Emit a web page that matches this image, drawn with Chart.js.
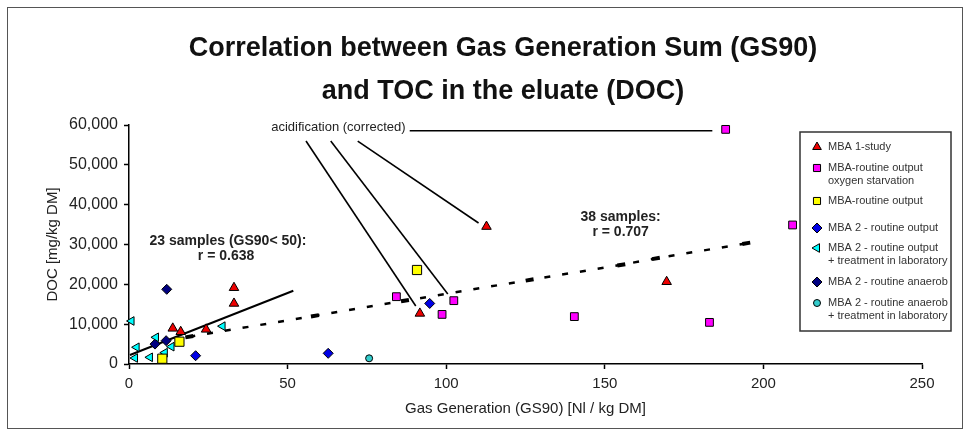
<!DOCTYPE html>
<html>
<head>
<meta charset="utf-8">
<title>GS90 vs DOC</title>
<script src="https://cdn.jsdelivr.net/npm/chart.js@4.4.1/dist/chart.umd.min.js"></script>
<style>
    html, body { margin: 0; padding: 0; background: #fff; }
    #wrap { width: 968px; height: 438px; }
</style>
</head>
<body>
<div id="wrap"><canvas id="myChart" width="968" height="438"></canvas></div>
<script>
// values: x = GS90 [Nl/kg DM], y = DOC [mg/kg DM]
var mba1X = [13.8, 16.3, 24.3, 33.1, 33.1, 91.7, 112.7, 169.5];
var mba1Y = [8950, 8100, 8700, 15200, 19150, 12700, 34500, 20650];

var oxyX = [84.3, 98.7, 102.4, 140.4, 183.0, 188.1, 209.2];
var oxyY = [16900, 12450, 15900, 11900, 10450, 58900, 34900];

var routineX = [10.5, 15.9, 90.8];
var routineY = [1330, 5600, 23600];

var mba2OutX = [21.0, 62.8, 94.8];
var mba2OutY = [2080, 2680, 15200];

var mba2TreatX = [0.8, 1.9, 2.4, 6.6, 8.5, 11.3, 13.4, 29.5];
var mba2TreatY = [10800, 1500, 4200, 1680, 6700, 2840, 4350, 9500];

var anaerobX = [8.2, 11.7, 11.9];
var anaerobY = [5000, 5850, 18750];

var anaerobTreatX = [75.7];
var anaerobTreatY = [1430];

// regression lines
var fit23X = [0.3, 51.8];
var fit23Y = [2260, 18400];
var fit38X = [19, 58.6, 87, 126.3, 155.2, 166.1, 194.6];
var fit38Y = [6850, 12100, 15900, 21100, 24900, 26500, 30300];

// "acidification (corrected)" pointer lines, in data units
var acidFromX = [55.8, 63.6, 72.1];
var acidFromY = [55970, 55970, 55970];
var acidToX = [90.4, 100.5, 110.2];
var acidToY = [14560, 17570, 35390];
var acidBarX = [88.5, 183.9];
var acidBarY = 58560;

var titleLines = ["Correlation between Gas Generation Sum (GS90)", "and TOC in the eluate (DOC)"];
var legendLabels = [
    ["MBA 1-study"],
    ["MBA-routine output", "oxygen starvation"],
    ["MBA-routine output"],
    ["MBA 2 - routine output"],
    ["MBA 2 - routine output", "+ treatment in laboratory"],
    ["MBA 2 - routine anaerob"],
    ["MBA 2 - routine anaerob", "+ treatment in laboratory"]
];

function pts(xs, ys) {
    return xs.map(function (x, i) { return { x: x, y: ys[i] }; });
}

function markers(label, xs, ys, style, fill, radius, rot) {
    return {
        label: label,
        data: pts(xs, ys),
        pointStyle: style,
        pointRadius: radius,
        pointRotation: rot || 0,
        backgroundColor: fill,
        borderColor: "#000",
        borderWidth: 1,
        showLine: false,
        clip: false,
        order: 1
    };
}

var FONT = "'Liberation Sans', Arial, sans-serif";

var decor = {
    id: "decor",
    beforeDraw: function (chart) {
        var c = chart.ctx;
        c.save();
        c.fillStyle = "#fff";
        c.fillRect(0, 0, chart.width, chart.height);
        c.restore();
    },
    afterDatasetsDraw: function (chart) {
        var c = chart.ctx;
        var xs = chart.scales.x, ys = chart.scales.y;
        c.save();
        c.strokeStyle = "#000";
        c.lineWidth = 1.6;
        for (var i = 0; i < acidFromX.length; i++) {
            c.beginPath();
            c.moveTo(xs.getPixelForValue(acidFromX[i]), ys.getPixelForValue(acidFromY[i]));
            c.lineTo(xs.getPixelForValue(acidToX[i]), ys.getPixelForValue(acidToY[i]));
            c.stroke();
        }
        c.lineWidth = 1.4;
        c.beginPath();
        c.moveTo(xs.getPixelForValue(acidBarX[0]), ys.getPixelForValue(acidBarY));
        c.lineTo(xs.getPixelForValue(acidBarX[1]), ys.getPixelForValue(acidBarY));
        c.stroke();

        c.fillStyle = "#222";
        c.textBaseline = "middle";
        c.font = "13px " + FONT;
        c.textAlign = "right";
        c.fillText("acidification (corrected)", xs.getPixelForValue(87.2), ys.getPixelForValue(59500));

        c.font = "bold 14px " + FONT;
        c.textAlign = "center";
        c.fillText("23 samples (GS90< 50):", xs.getPixelForValue(31.2), ys.getPixelForValue(30900));
        c.fillText("r = 0.638", xs.getPixelForValue(30.6), ys.getPixelForValue(27100));
        c.fillText("38 samples:", xs.getPixelForValue(155), ys.getPixelForValue(36900));
        c.fillText("r = 0.707", xs.getPixelForValue(155), ys.getPixelForValue(33100));
        c.restore();
    },
    afterDraw: function (chart) {
        var c = chart.ctx;
        c.save();
        // outer frame
        c.strokeStyle = "#555";
        c.lineWidth = 1;
        c.strokeRect(7.5, 7.5, 955, 421);

        // title
        c.fillStyle = "#111";
        c.font = "bold 27px " + FONT;
        c.textAlign = "center";
        c.textBaseline = "middle";
        c.fillText(titleLines[0], 503, 49);
        c.fillText(titleLines[1], 503, 92);

        // legend box
        var bx = 800, by = 132, bw = 151, bh = 199;
        c.fillStyle = "#fff";
        c.fillRect(bx, by, bw, bh);
        c.strokeStyle = "#333";
        c.lineWidth = 1.5;
        c.strokeRect(bx, by, bw, bh);

        var rowY = [147, 168, 201, 228, 248, 282, 303];
        var ds = chart.data.datasets;
        c.font = "11px " + FONT;
        c.textAlign = "left";
        for (var i = 0; i < legendLabels.length; i++) {
            var d = ds[i];
            c.fillStyle = d.backgroundColor;
            c.strokeStyle = "#000";
            c.lineWidth = 1;
            Chart.helpers.drawPoint(c, {
                pointStyle: d.pointStyle,
                radius: Math.min(d.pointRadius, 5),
                rotation: d.pointRotation,
                borderWidth: 1
            }, 817, rowY[i]);
            c.fillStyle = "#333";
            for (var k = 0; k < legendLabels[i].length; k++) {
                c.fillText(legendLabels[i][k], 828, rowY[i] + k * 13);
            }
        }
        c.restore();
    }
};

var ctx = document.getElementById("myChart").getContext("2d");
window.myChart = new Chart(ctx, {
    type: "scatter",
    data: {
        datasets: [
            markers("MBA 1-study", mba1X, mba1Y, "triangle", "#ee0000", 5.5),
            markers("MBA-routine output oxygen starvation", oxyX, oxyY, "rect", "#ff00ff", 5.5),
            markers("MBA-routine output", routineX, routineY, "rect", "#ffff00", 6.5),
            markers("MBA 2 - routine output", mba2OutX, mba2OutY, "rectRot", "#0000e6", 5),
            markers("MBA 2 - routine output + treatment in laboratory", mba2TreatX, mba2TreatY, "triangle", "#00ffff", 5, 270),
            markers("MBA 2 - routine anaerob", anaerobX, anaerobY, "rectRot", "#000080", 5),
            markers("MBA 2 - routine anaerob + treatment in laboratory", anaerobTreatX, anaerobTreatY, "circle", "#33cccc", 3.5),
            {
                label: "fit 23",
                data: pts(fit23X, fit23Y),
                showLine: true,
                borderColor: "#000",
                borderWidth: 2,
                pointRadius: 0,
                order: 2
            },
            {
                label: "fit 38",
                data: pts(fit38X, fit38Y),
                showLine: true,
                borderColor: "#000",
                borderWidth: 2.5,
                borderDash: [6, 12],
                pointStyle: "line",
                pointRadius: 4,
                pointRotation: -9.5,
                pointBorderWidth: 4,
                pointBorderColor: "#000",
                order: 2
            }
        ]
    },
    options: {
        responsive: false,
        animation: false,
        events: [],
        layout: { padding: { left: 10, top: 125, right: 46, bottom: 10 } },
        plugins: {
            legend: { display: false },
            title: { display: false },
            tooltip: { enabled: false }
        },
        scales: {
            x: {
                type: "linear",
                min: 0,
                max: 250,
                afterFit: function (s) { s.height = 64; },
                ticks: { stepSize: 50, padding: 6, color: "#222", font: { family: FONT, size: 15 } },
                grid: { drawOnChartArea: false, drawTicks: true, tickLength: 5, tickColor: "#000", tickWidth: 1.5 },
                border: { display: true, color: "#000", width: 1.5 },
                title: {
                    display: true,
                    text: "Gas Generation (GS90) [Nl / kg DM]",
                    color: "#222",
                    font: { family: FONT, size: 15 },
                    padding: { top: 0, bottom: 10 }
                }
            },
            y: {
                min: 0,
                max: 60000,
                afterFit: function (s) { s.width = 119; },
                ticks: { stepSize: 10000, padding: 6, color: "#222", font: { family: FONT, size: 16 } },
                grid: { drawOnChartArea: false, drawTicks: true, tickLength: 5, tickColor: "#000", tickWidth: 1.5 },
                border: { display: true, color: "#000", width: 1.5 },
                title: {
                    display: true,
                    text: "DOC [mg/kg DM]",
                    color: "#222",
                    font: { family: FONT, size: 15 },
                    padding: { top: 34, bottom: 0 }
                }
            }
        }
    },
    plugins: [decor]
});
</script>
</body>
</html>
